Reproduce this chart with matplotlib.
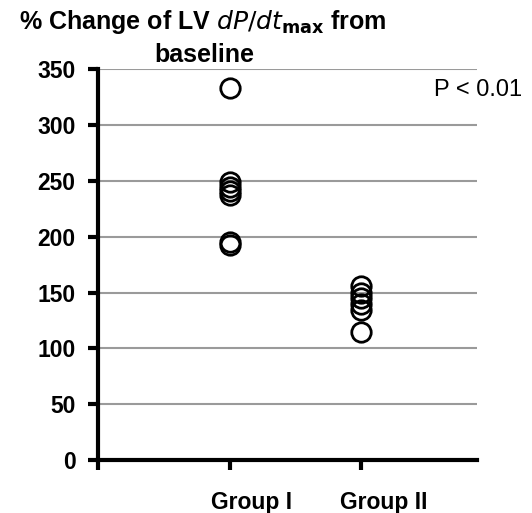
import matplotlib.pyplot as plt
import matplotlib.transforms as mtransforms
import numpy as np

plt.rcParams['font.family'] = ['Liberation Sans', 'DejaVu Sans']

# data
groups = ['Group I', 'Group II']
group1 = [333, 249, 245, 241, 237, 195, 193]
group2 = [156, 150, 145, 140, 134, 115]
yticks = [0, 50, 100, 150, 200, 250, 300, 350]

fig = plt.figure(figsize=(5.32, 5.13), dpi=100)
ax = fig.add_axes([0.184, 0.103, 0.713, 0.762])

ax.plot(np.full(len(group1), 1), group1, 'o', ms=14, mfc='none', mec='black', mew=2, clip_on=False, zorder=3)
ax.plot(np.full(len(group2), 2), group2, 'o', ms=14, mfc='none', mec='black', mew=2, clip_on=False, zorder=3)

ax.set_xlim(0, 2.88)
ax.set_ylim(0, 350)
ax.set_yticks(yticks)
ax.set_xticks([0, 1, 2])
ax.set_xticklabels([''] + groups)
ax.yaxis.grid(True, color='#9a9a9a', lw=1.5)
ax.set_axisbelow(True)

for s in ['top', 'right']:
    ax.spines[s].set_visible(False)
for s in ['left', 'bottom']:
    ax.spines[s].set_linewidth(3)
ax.tick_params(axis='both', direction='out', length=7, width=3)
ax.tick_params(axis='x', pad=15)
ax.tick_params(axis='y', pad=9)
shift = mtransforms.ScaledTranslation(22 / 100, 0, fig.dpi_scale_trans)
for lab in ax.get_xticklabels():
    lab.set_fontsize(16.5)
    lab.set_fontweight('bold')
    lab.set_transform(lab.get_transform() + shift)
for lab in ax.get_yticklabels():
    lab.set_fontsize(16.5)
    lab.set_fontweight('bold')

ax.text(2.55, 331, 'P < 0.01', fontsize=17, ha='left', va='center', clip_on=False)

fig.text(203 / 532, 1 - 22 / 513, r'% Change of LV $\mathbf{\it{dP/dt}}_{\mathbf{max}}$ from',
         fontsize=18, fontweight='bold', ha='center', va='center')
fig.text(204 / 532, 1 - 55 / 513, 'baseline', fontsize=18, fontweight='bold', ha='center', va='center')

plt.savefig('out.png', dpi=100)
